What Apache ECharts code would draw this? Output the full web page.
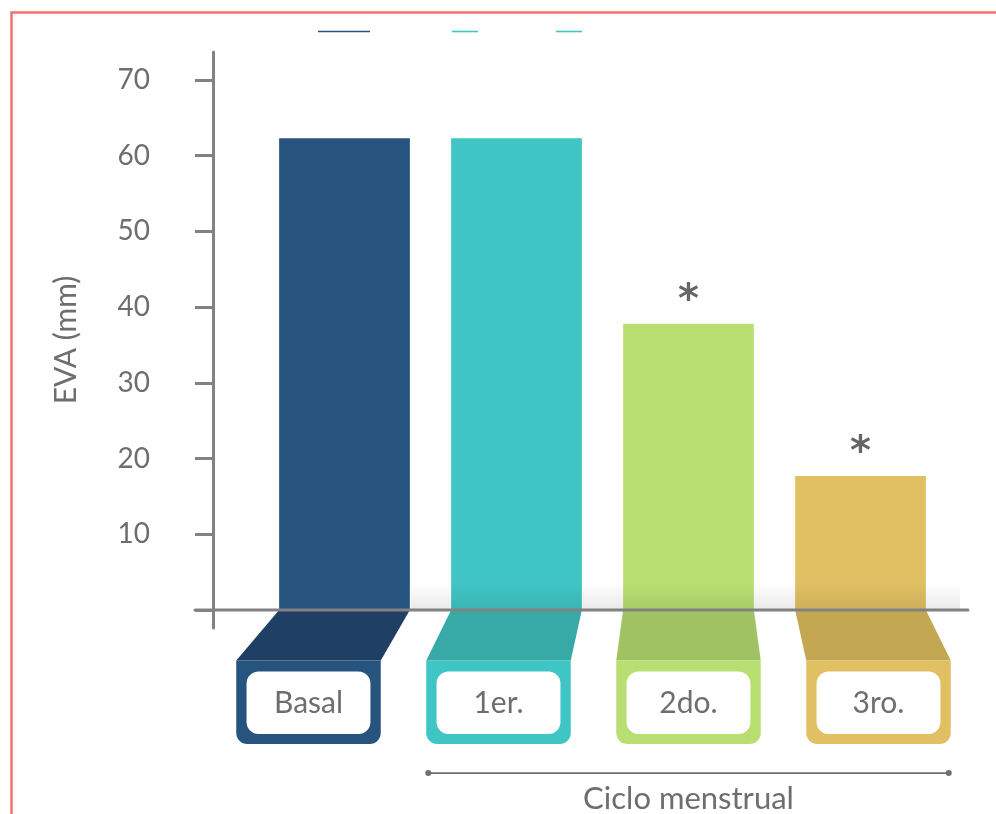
<!DOCTYPE html>
<html>
<head>
<meta charset="utf-8">
<script src="https://cdn.jsdelivr.net/npm/echarts@6/dist/echarts.min.js"></script>
<style>
  html, body { margin: 0; padding: 0; background: #fff; }
  #chart { width: 996px; height: 814px; }
</style>
</head>
<body>
<div id="chart"></div>
<script>
// ---- data ----
const categories = ['Basal', '1er.', '2do.', '3ro.'];
const evaValues = [62.3, 62.3, 37.8, 17.7];
const significant = [false, false, true, true];
const yTickValues = [0, 10, 20, 30, 40, 50, 60, 70];
const yLabelValues = [10, 20, 30, 40, 50, 60, 70];
const yAxisTitle = 'EVA (mm)';
const groupTitle = 'Ciclo menstrual';
const groupFirst = 1;   // bracket runs from this category...
const groupLast = 3;    // ...to this one

// ---- styles ----
const barColors = ['#27537f', '#40c5c5', '#b9df72', '#e0c063'];
const foldColors = ['#1f4064', '#37a9a7', '#a0c262', '#c4a753'];
const FONT = 'Lato, "Open Sans", sans-serif';
const TEXT_GREY = '#6e6e6e';
const AXIS_GREY = '#828282';

// tab geometry below the baseline
const TAB_W = 144.5;
const TAB_SPREAD = 190 / 172;   // tabs are spaced a bit wider than bars
const TAB_ANCHOR = 2;           // category whose tab sits right under its bar
const FOLD_H = 50.5;
const TAB_H = 83.6;

const chart = echarts.init(document.getElementById('chart'));

function tabCenter(barX, anchorX) {
  return anchorX + (barX - anchorX) * TAB_SPREAD;
}

function renderTab(params, api) {
  const i = api.value(0);
  const base = api.coord([i, 0]);
  const anchorX = api.coord([TAB_ANCHOR, 0])[0];
  const bw = api.size([1, 0])[0] * 0.76;
  const cx = tabCenter(base[0], anchorX);
  const y0 = base[1];
  const y1 = y0 + FOLD_H;
  const y2 = y1 + TAB_H;
  const left = cx - TAB_W / 2;
  return {
    type: 'group',
    children: [
      {
        type: 'polygon',
        shape: { points: [[base[0] - bw / 2, y0], [base[0] + bw / 2, y0], [left + TAB_W, y1], [left, y1]] },
        style: { fill: foldColors[i] }
      },
      {
        type: 'rect',
        shape: { x: left, y: y1, width: TAB_W, height: TAB_H, r: [0, 0, 11, 11] },
        style: { fill: barColors[i] }
      },
      {
        type: 'rect',
        shape: { x: left + 10.3, y: y1 + 11, width: TAB_W - 20.6, height: TAB_H - 21, r: 12 },
        style: { fill: '#ffffff' }
      },
      {
        type: 'text',
        style: {
          text: categories[i], x: cx, y: y1 + 11 + (TAB_H - 21) / 2 + 1,
          align: 'center', verticalAlign: 'middle',
          fill: TEXT_GREY, fontSize: 30, fontFamily: FONT
        }
      }
    ]
  };
}

const option = {
  animation: false,
  backgroundColor: '#ffffff',
  grid: { left: 258.5, right: 49.5, top: 52, bottom: 186 },
  xAxis: {
    type: 'category',
    data: categories,
    axisLine: { show: false },
    axisTick: { show: false },
    axisLabel: { show: false },
    splitLine: { show: false }
  },
  yAxis: {
    type: 'value',
    min: -2.38,
    max: 73.7,
    offset: 45.5,
    name: yAxisTitle,
    nameLocation: 'middle',
    nameRotate: 90,
    nameGap: 132,
    nameTextStyle: { color: TEXT_GREY, fontSize: 30, fontFamily: FONT },
    axisLine: { show: true, lineStyle: { color: AXIS_GREY, width: 3 } },
    axisTick: { show: true, length: 18, customValues: yTickValues, lineStyle: { color: AXIS_GREY, width: 3 } },
    axisLabel: { show: true, customValues: yLabelValues, margin: 63, color: TEXT_GREY, fontSize: 28, fontFamily: FONT },
    splitLine: { show: false }
  },
  series: [
    {
      type: 'bar',
      barCategoryGap: '24%',
      data: evaValues.map((v, i) => ({
        value: v,
        itemStyle: { color: barColors[i] },
        label: {
          show: significant[i],
          position: 'top',
          distance: 2,
          formatter: '*',
          color: '#666666',
          fontSize: 40,
          fontWeight: 'bold',
          fontFamily: '"DejaVu Sans"'
        }
      }))
    },
    {
      type: 'custom',
      clip: false,
      silent: true,
      renderItem: renderTab,
      data: categories.map((c, i) => [i, 0]),
      z: 3
    }
  ]
};

chart.setOption(option);

// decorations placed from the axes' own scales
function decorations() {
  const zeroY = chart.convertToPixel({ yAxisIndex: 0 }, 0);
  const barX = categories.map((c, i) => chart.convertToPixel({ xAxisIndex: 0 }, i));
  const bw = (barX[1] - barX[0]) * 0.76;
  const anchorX = barX[TAB_ANCHOR];
  const yAxisX = 213;
  const lineLeft = yAxisX - 18;
  const lineRight = barX[barX.length - 1] + 107.5;
  const shadowLeft = barX[0] + bw / 2 + 1;
  const bracketL = tabCenter(barX[groupFirst], anchorX) - TAB_W / 2 + 2;
  const bracketR = tabCenter(barX[groupLast], anchorX) + TAB_W / 2 - 2;
  const bracketY = zeroY + FOLD_H + TAB_H + 29;

  return [
    // page frame
    {
      type: 'rect', z: 0, silent: true,
      shape: { x: 11.5, y: 12.5, width: 1000, height: 820 },
      style: { fill: 'none', stroke: '#f47272', lineWidth: 2.5 }
    },
    // legend strokes
    { type: 'line', shape: { x1: 318, y1: 31.5, x2: 370, y2: 31.5 }, style: { stroke: barColors[0], lineWidth: 1.6 } },
    { type: 'line', shape: { x1: 452, y1: 31.5, x2: 478, y2: 31.5 }, style: { stroke: barColors[1], lineWidth: 1.6 } },
    { type: 'line', shape: { x1: 556, y1: 31.5, x2: 582, y2: 31.5 }, style: { stroke: barColors[1], lineWidth: 1.6 } },
    // soft floor shadow
    {
      type: 'rect', z: 4, silent: true,
      shape: { x: shadowLeft, y: zeroY - 28, width: lineRight - 8 - shadowLeft, height: 28 },
      style: {
        fill: new echarts.graphic.LinearGradient(0, 0, 0, 1, [
          { offset: 0, color: 'rgba(0,0,0,0)' },
          { offset: 1, color: 'rgba(0,0,0,0.085)' }
        ])
      }
    },
    // baseline
    {
      type: 'line', z: 10, silent: true,
      shape: { x1: lineLeft, y1: zeroY, x2: lineRight, y2: zeroY },
      style: { stroke: AXIS_GREY, lineWidth: 3, lineCap: 'round' }
    },
    // group bracket
    {
      type: 'line', z: 10, silent: true,
      shape: { x1: bracketL, y1: bracketY, x2: bracketR, y2: bracketY },
      style: { stroke: '#707070', lineWidth: 1.6 }
    },
    { type: 'circle', z: 10, shape: { cx: bracketL, cy: bracketY, r: 3 }, style: { fill: '#707070' } },
    { type: 'circle', z: 10, shape: { cx: bracketR, cy: bracketY, r: 3 }, style: { fill: '#707070' } },
    {
      type: 'text', z: 10,
      style: {
        text: groupTitle, x: (bracketL + bracketR) / 2, y: bracketY + 26,
        align: 'center', verticalAlign: 'middle',
        fill: TEXT_GREY, fontSize: 31, fontFamily: FONT
      }
    }
  ];
}

chart.setOption({ graphic: decorations() });
</script>
</body>
</html>
